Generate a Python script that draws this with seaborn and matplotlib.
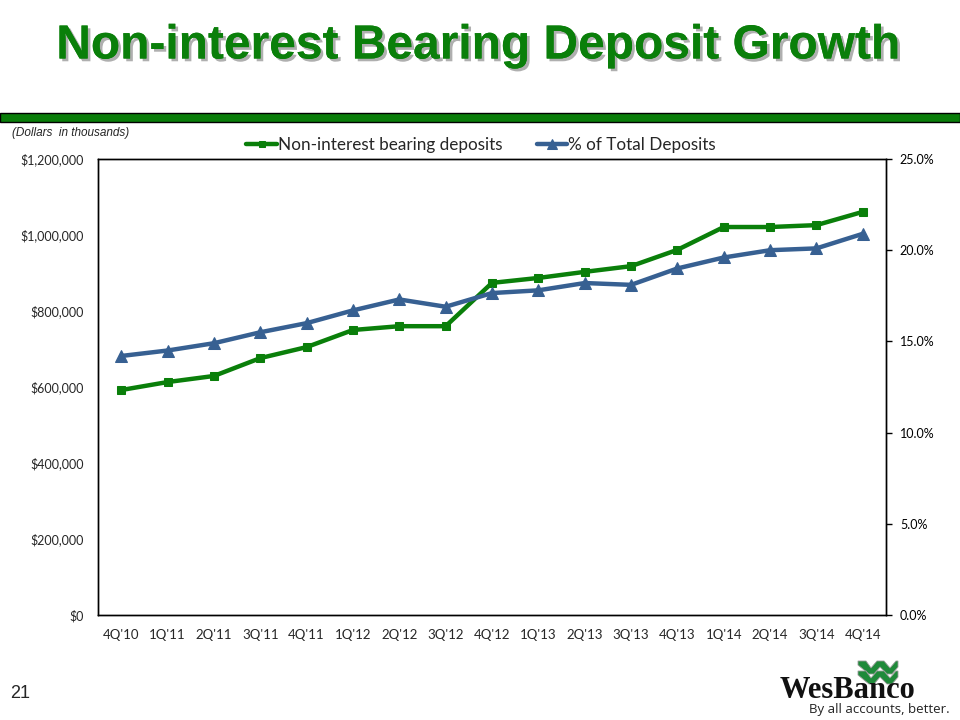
import pandas as pd
import seaborn as sns
import matplotlib.pyplot as plt
import matplotlib.patheffects as pe
from matplotlib.patches import Polygon, Rectangle
from matplotlib.ticker import FuncFormatter

# Data
quarters = ["4Q'10", "1Q'11", "2Q'11", "3Q'11", "4Q'11", "1Q'12", "2Q'12", "3Q'12", "4Q'12",
            "1Q'13", "2Q'13", "3Q'13", "4Q'13", "1Q'14", "2Q'14", "3Q'14", "4Q'14"]
deposits = [592000, 613000, 629000, 676000, 705000, 750000, 760000, 760000, 874000,
            887000, 903000, 918000, 961000, 1021000, 1021000, 1026000, 1061000]
pct_total = [14.2, 14.5, 14.9, 15.5, 16.0, 16.7, 17.3, 16.9, 17.65,
             17.8, 18.2, 18.1, 19.0, 19.6, 20.0, 20.1, 20.9]

df = pd.DataFrame({"quarter": quarters, "deposits": deposits, "pct": pct_total})
df["x"] = range(len(df))

GREEN = "#0a7f0a"
BLUE = "#376092"

sns.set_style("white")
fig = plt.figure(figsize=(9.6, 7.2), dpi=100)

def fy(py):
    # pixel row -> figure fraction
    return 1 - py / 720

# title with shadow
fig.text(0.498, fy(46), "Non-interest Bearing Deposit Growth", ha="center", va="center",
         fontsize=34.5, fontweight="bold", color=GREEN, family=["Liberation Sans", "DejaVu Sans"],
         path_effects=[pe.withSimplePatchShadow(offset=(2, -2), shadow_rgbFace="#7a7a7a", alpha=0.6),
                       pe.Normal()])

# green band under title
fig.patches.append(Rectangle((0, fy(122)), 1.0, 9 / 720, transform=fig.transFigure,
                             facecolor="#097d09", edgecolor="black", linewidth=1.0))

fig.text(0.0125, fy(133), "(Dollars  in thousands)", fontsize=8.5, style="italic",
         family="Liberation Sans", va="center")

ax = fig.add_axes([98 / 960, fy(615), 788 / 960, 456 / 720])
ax2 = ax.twinx()

sns.lineplot(data=df, x="x", y="deposits", ax=ax, color=GREEN, linewidth=3.2,
             marker="s", markersize=6, markeredgecolor=GREEN, label="Non-interest bearing deposits",
             legend=False)
sns.lineplot(data=df, x="x", y="pct", ax=ax2, color=BLUE, linewidth=3.2,
             marker="^", markersize=9, markeredgecolor=BLUE, label="% of Total Deposits",
             legend=False)

ax.set_xlim(-0.5, len(quarters) - 0.5)
ax.set_ylim(0, 1200000)
ax.set_yticks(range(0, 1200001, 200000))
ax.yaxis.set_major_formatter(FuncFormatter(lambda v, p: "${:,.0f}".format(v)))
ax2.set_ylim(0, 25)
ax2.set_yticks([0, 5, 10, 15, 20, 25])
ax2.yaxis.set_major_formatter(FuncFormatter(lambda v, p: "{:.1f}%".format(v)))
ax.set_xticks(df["x"])
ax.set_xticklabels(quarters)
ax.set_xlabel("")
ax.set_ylabel("")
ax2.set_ylabel("")

tick_font = "Lato"
for lab in ax.get_xticklabels():
    lab.set_family(tick_font)
    lab.set_fontsize(9.5)
for lab in ax.get_yticklabels() + ax2.get_yticklabels():
    lab.set_family(tick_font)
    lab.set_fontsize(9)
ax.tick_params(axis="x", length=0, pad=10)
ax.tick_params(axis="y", length=0, pad=10)
ax2.tick_params(axis="y", length=4, width=1, direction="out", pad=6, colors="black")

for a in (ax, ax2):
    for s in a.spines.values():
        s.set_color("black")
        s.set_linewidth(1.0)
        s.set_visible(True)

h1, l1 = ax.get_legend_handles_labels()
h2, l2 = ax2.get_legend_handles_labels()
fig.legend(h1 + h2, l1 + l2, loc="center", bbox_to_anchor=(481 / 960, fy(145)), ncol=2,
           frameon=False, prop={"family": "Lato", "size": 12.3}, handlelength=1.8,
           handletextpad=0.05, columnspacing=2.0, markerscale=0.75)

# page number
fig.text(10 / 960, fy(693), "21", fontsize=13, family="Liberation Sans", va="center")

# logo: two stacked green chevrons + wordmark
def chevron(top):
    pts = [(858, top), (866, top), (871, top + 7), (877, top), (884, top), (890, top + 7),
           (896, top), (898, top), (898, top + 6), (892, top + 13), (887, top + 13), (880, top + 6),
           (874, top + 13), (869, top + 13), (858, top + 4)]
    return [(px / 960, fy(py)) for px, py in pts]

for top in (661, 671):
    fig.patches.append(Polygon(chevron(top), closed=True, transform=fig.transFigure,
                               facecolor="#1f8a3a", edgecolor="#9a9a9a", linewidth=0.6))
fig.text(848 / 960, fy(690), "WesBanco", fontsize=22, fontweight="bold", ha="center", va="center",
         family="Liberation Serif", color="#111111")
fig.text(950 / 960, fy(710), "By all accounts, better.", fontsize=9.5, ha="right", va="center",
         family="Open Sans", color="#222222")

fig.savefig("out.png", dpi=100)
